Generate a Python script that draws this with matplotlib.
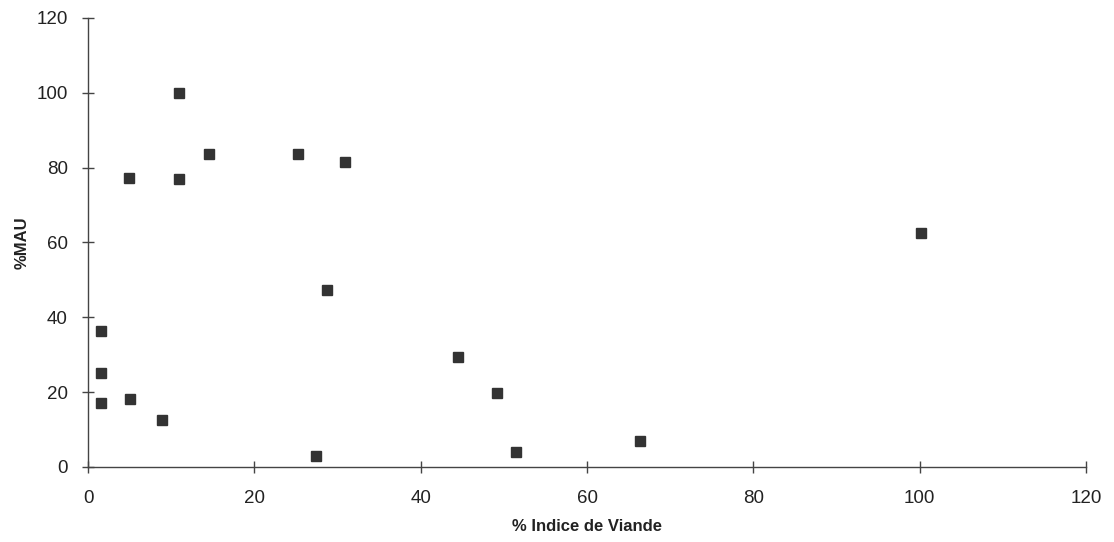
import matplotlib
matplotlib.use("Agg")
import matplotlib.pyplot as plt

# % Indice de Viande vs %MAU
indice_viande = [1.6, 1.6, 1.6, 4.9, 5.1, 8.9, 10.9, 10.9, 14.6, 25.3,
                 27.4, 28.7, 30.9, 44.5, 49.2, 51.5, 66.4, 100.2]
mau = [36.3, 25.1, 17.1, 77.2, 18.2, 12.6, 100.0, 77.0, 83.6, 83.6,
       2.9, 47.3, 81.5, 29.4, 19.8, 4.0, 6.9, 62.5]

xticks = [0, 20, 40, 60, 80, 100, 120]
yticks = [0, 20, 40, 60, 80, 100, 120]

plt.rcParams['font.family'] = ['Liberation Sans', 'DejaVu Sans']

fig = plt.figure(figsize=(11.14, 5.42), dpi=100)
ax = fig.add_axes([0.079, 0.1384, 0.896, 0.8284])

ax.plot(indice_viande, mau, 's', color='#333333', markersize=7, linestyle='none')

ax.set_xlim(0, 120)
ax.set_ylim(0, 120)
ax.set_xticks(xticks)
ax.set_yticks(yticks)

for side in ['top', 'right']:
    ax.spines[side].set_visible(False)
for side in ['left', 'bottom']:
    ax.spines[side].set_color('#444444')
    ax.spines[side].set_linewidth(1.0)

ax.tick_params(direction='inout', length=9, width=1, colors='#444444',
               labelsize=13.5, labelcolor='#222222')
ax.tick_params(axis='x', pad=12)
ax.tick_params(axis='y', pad=10)

ax.set_xlabel('% Indice de Viande', fontsize=12, fontweight='bold', color='#222222', labelpad=9)
ax.set_ylabel('%MAU', fontsize=12, fontweight='bold', color='#222222', labelpad=5)

fig.savefig('out.png', dpi=100)
plt.close()
